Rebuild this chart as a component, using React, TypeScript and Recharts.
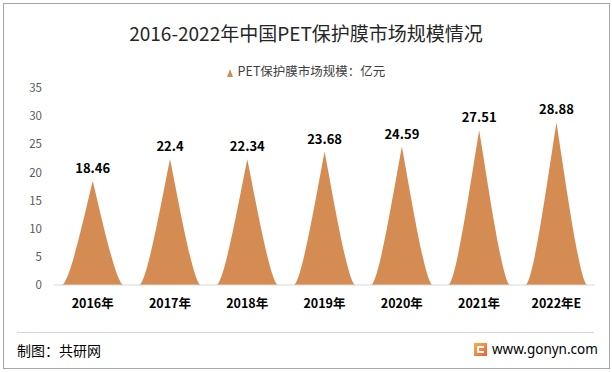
import { BarChart, Bar, XAxis, YAxis, LabelList } from 'recharts';

const years = ['2016年', '2017年', '2018年', '2019年', '2020年', '2021年', '2022年E'];
const marketSize = [18.46, 22.4, 22.34, 23.68, 24.59, 27.51, 28.88];
const yTicks = [0, 5, 10, 15, 20, 25, 30, 35];

const data = years.map((name, i) => ({ name, value: marketSize[i] }));

const FILL = '#D48C53';
const CJK = '"Noto Sans CJK SC", "Noto Sans", sans-serif';

// pointed bar with concave sides (like Excel's cone/peak shape)
function Spike(props: any) {
  const { x, y, width, height, fill } = props;
  if (!height || height <= 0) return null;
  const b = y + height;
  const half = width / 2;
  const cx = x + half;
  const lx = (u: number) => x + u * half;
  const rx = (u: number) => x + width - u * half;
  const hy = (h: number) => b - h * height;
  const d = [
    `M${x},${b}`,
    `C${lx(0.25)},${hy(0)} ${lx(0.75)},${hy(0.7)} ${cx},${y}`,
    `C${rx(0.75)},${hy(0.7)} ${rx(0.25)},${hy(0)} ${x + width},${b}`,
    'Z',
  ].join(' ');
  return <path d={d} fill={fill} />;
}

export default function App() {
  return (
    <div
      style={{
        position: 'absolute',
        left: 0,
        top: 0,
        width: 612,
        height: 372,
        background: '#fff',
        fontFamily: CJK,
        overflow: 'hidden',
      }}
    >
      <div
        style={{
          position: 'absolute',
          left: 3,
          top: 3,
          width: 605,
          height: 364,
          border: '1px solid #A6A6A6',
        }}
      />
      <div
        style={{
          position: 'absolute',
          top: 20,
          left: 0,
          width: 612,
          textAlign: 'center',
          fontSize: 19,
          color: '#262626',
          lineHeight: '26px',
        }}
      >
        2016-2022年中国PET保护膜市场规模情况
      </div>
      <div
        style={{
          position: 'absolute',
          top: 63,
          left: 0,
          width: 612,
          textAlign: 'center',
          fontSize: 12.5,
          color: '#404040',
          lineHeight: '16px',
        }}
      >
        <svg width="6" height="8" style={{ marginRight: 5, verticalAlign: 'middle' }}>
          <polygon points="3,0 6,8 0,8" fill={FILL} />
        </svg>
        PET保护膜市场规模：亿元
      </div>

      <div style={{ position: 'absolute', left: 0, top: 0 }}>
        <BarChart
          width={612}
          height={372}
          data={data}
          margin={{ top: 88, right: 17, bottom: 57, left: 0 }}
          barCategoryGap="10%"
        >
          <XAxis
            dataKey="name"
            axisLine={{ stroke: '#D9D9D9' }}
            tickLine={false}
            tickMargin={8}
            tick={{ fill: '#000', fontSize: 12.5, fontWeight: 'bold', fontFamily: CJK }}
          />
          <YAxis
            width={54}
            domain={[0, 35]}
            ticks={yTicks}
            axisLine={false}
            tickLine={false}
            tickMargin={6}
            tick={{ fill: '#595959', fontSize: 11.5, fontFamily: CJK }}
          />
          <Bar dataKey="value" fill={FILL} shape={Spike} isAnimationActive={false}>
            <LabelList
              dataKey="value"
              position="top"
              offset={8}
              fill="#000"
              fontSize={13}
              fontWeight="bold"
              fontFamily={CJK}
            />
          </Bar>
        </BarChart>
      </div>

      <div
        style={{
          position: 'absolute',
          left: 17,
          top: 332,
          width: 577,
          borderTop: '1px solid #D9D9D9',
        }}
      />
      <div
        style={{
          position: 'absolute',
          left: 17,
          top: 340,
          fontSize: 14,
          color: '#000',
          lineHeight: '20px',
        }}
      >
        制图：共研网
      </div>
      <div
        style={{
          position: 'absolute',
          left: 474,
          top: 343,
          width: 13,
          height: 13,
          background: 'linear-gradient(135deg, #F8B04A, #EC5F3A)',
        }}
      >
        <div
          style={{
            position: 'absolute',
            left: 3,
            top: 3,
            width: 7,
            height: 7,
            border: '2px solid #fff',
            borderRight: 'none',
            boxSizing: 'border-box',
          }}
        />
      </div>
      <div
        style={{
          position: 'absolute',
          left: 492,
          top: 340,
          fontSize: 13.5,
          color: '#000',
          lineHeight: '18px',
          fontFamily: '"Noto Sans", sans-serif',
        }}
      >
        www.gonyn.com
      </div>
    </div>
  );
}
